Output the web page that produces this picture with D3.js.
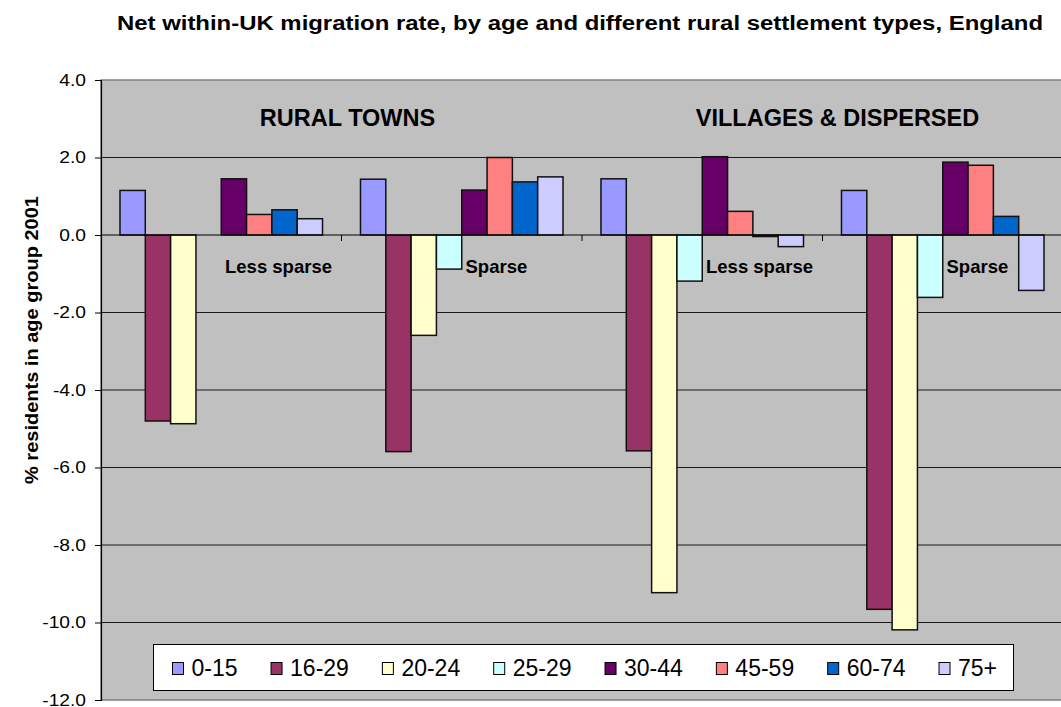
<!DOCTYPE html>
<html>
<head>
<meta charset="utf-8">
<script src="https://cdn.jsdelivr.net/npm/d3@7"></script>
<style>
	body { margin: 0; background: #fff; }
	text { font-family: "Liberation Sans", Arial, sans-serif; }
	.tick text { font-size: 16px; fill: #000; }
</style>
</head>
<body>
<div id="chart"></div>
<script>
var settlementTypes = ["Less sparse", "Sparse", "Less sparse", "Sparse"];
var settlementGroups = ["RURAL TOWNS", "VILLAGES & DISPERSED"];
var ageBands = ["0-15", "16-29", "20-24", "25-29", "30-44", "45-59", "60-74", "75+"];
var ageColors = ["#9999FF", "#993366", "#FFFFCC", "#CCFFFF", "#660066", "#FF8080", "#0066CC", "#CCCCFF"];

// one value per settlement type, in the order of settlementTypes
var age0to15 = [1.15, 1.44, 1.45, 1.15];
var age16to29 = [-4.80, -5.59, -5.57, -9.66];
var age20to24 = [-4.87, -2.59, -9.23, -10.19];
var age25to29 = [null, -0.88, -1.19, -1.61];
var age30to44 = [1.45, 1.16, 2.02, 1.88];
var age45to59 = [0.53, 2.00, 0.61, 1.80];
var age60to74 = [0.65, 1.37, -0.04, 0.48];
var age75plus = [0.42, 1.50, -0.30, -1.43];

var yTicks = [4, 2, 0, -2, -4, -6, -8, -10, -12];

var seriesValues = [age0to15, age16to29, age20to24, age25to29, age30to44, age45to59, age60to74, age75plus];

var width = 1061,
	height = 707,
	plotLeft = 101,
	plotRight = 1063,
	plotTop = 80,
	plotBottom = 700;

var svg = d3.select("#chart")
	.append("svg")
	.attr("width", width)
	.attr("height", height)
;

var xGroup = d3.scaleBand()
	.domain(d3.range(settlementTypes.length))
	.range([plotLeft, plotRight])
;

var xBar = d3.scaleBand()
	.domain(ageBands)
	.range([0, xGroup.bandwidth()])
	.paddingOuter(0.75)
;

var yScale = d3.scaleLinear()
	.domain([-12, 4])
	.range([plotBottom, plotTop])
;

/*
	Plot area and gridlines
*/
svg.append("rect")
	.attr("x", plotLeft)
	.attr("y", plotTop)
	.attr("width", plotRight - plotLeft)
	.attr("height", plotBottom - plotTop)
	.attr("fill", "#C0C0C0")
;

svg.selectAll("line.grid")
	.data(yTicks.filter(function(d) { return d !== 4 && d !== -12 && d !== 0; }))
	.enter()
	.append("line")
	.attr("class", "grid")
	.attr("x1", plotLeft)
	.attr("x2", plotRight)
	.attr("y1", function(d) { return yScale(d); })
	.attr("y2", function(d) { return yScale(d); })
	.attr("stroke", "#1a1a1a")
	.attr("stroke-width", 1.2)
;

svg.append("rect")
	.attr("x", plotLeft)
	.attr("y", plotTop)
	.attr("width", plotRight - plotLeft)
	.attr("height", plotBottom - plotTop)
	.attr("fill", "none")
	.attr("stroke", "#808080")
	.attr("stroke-width", 1.5)
;

/*
	Bars
*/
var groups = svg.selectAll("g.series")
	.data(seriesValues)
	.enter()
	.append("g")
	.attr("class", "series")
	.attr("fill", function(d, i) { return ageColors[i]; })
;

groups.selectAll("rect")
	.data(function(d, i) {
		return d.map(function(v, j) { return { age: ageBands[i], group: j, value: v }; })
			.filter(function(e) { return e.value !== null; });
	})
	.enter()
	.append("rect")
	.attr("x", function(d) { return xGroup(d.group) + xBar(d.age); })
	.attr("width", xBar.bandwidth())
	.attr("y", function(d) { return yScale(Math.max(0, d.value)); })
	.attr("height", function(d) { return Math.abs(yScale(d.value) - yScale(0)); })
	.attr("stroke", "#111")
	.attr("stroke-width", 1.5)
;

/*
	Axes
*/
svg.append("line")
	.attr("x1", plotLeft)
	.attr("x2", plotRight)
	.attr("y1", yScale(0))
	.attr("y2", yScale(0))
	.attr("stroke", "#000")
	.attr("stroke-width", 1.2)
;

svg.selectAll("line.catTick")
	.data(d3.range(1, settlementTypes.length))
	.enter()
	.append("line")
	.attr("class", "catTick")
	.attr("x1", function(d) { return xGroup(d); })
	.attr("x2", function(d) { return xGroup(d); })
	.attr("y1", yScale(0))
	.attr("y2", yScale(0) + 6)
	.attr("stroke", "#000")
;

var yAxis = svg.append("g")
	.attr("transform", "translate(" + plotLeft + ",0)")
	.call(d3.axisLeft(yScale)
		.tickValues(yTicks)
		.tickSize(6)
		.tickPadding(9)
		.tickFormat(function(d) { return d.toFixed(1); }))
;
yAxis.select(".domain").attr("stroke", "#000").attr("stroke-width", 1.2);
yAxis.selectAll(".tick line").attr("stroke", "#000");
// the reference glyphs are drawn wider than the font's own widths
yAxis.selectAll(".tick text")
	.attr("font-family", null)
	.each(function() {
		d3.select(this)
			.attr("textLength", this.getComputedTextLength() * 1.2)
			.attr("lengthAdjust", "spacingAndGlyphs");
	})
;

/*
	Titles and labels
*/
svg.append("text")
	.attr("x", 580)
	.attr("y", 30)
	.attr("text-anchor", "middle")
	.attr("font-size", "19.5px")
	.attr("font-weight", "bold")
	.attr("textLength", 926)
	.attr("lengthAdjust", "spacingAndGlyphs")
	.text("Net within-UK migration rate, by age and different rural settlement types, England")
;

svg.append("text")
	.attr("transform", "translate(37.5," + 340 + ") rotate(-90)")
	.attr("text-anchor", "middle")
	.attr("font-size", "18px")
	.attr("font-weight", "bold")
	.attr("textLength", 288)
	.attr("lengthAdjust", "spacingAndGlyphs")
	.text("% residents in age group 2001")
;

svg.selectAll("text.settlement")
	.data(settlementGroups)
	.enter()
	.append("text")
	.attr("class", "settlement")
	.attr("x", function(d, i) { return xGroup(i * 2 + 1) + (i === 0 ? 6 : 15); })
	.attr("y", 126)
	.attr("text-anchor", "middle")
	.attr("font-size", "23.5px")
	.attr("font-weight", "bold")
	.text(function(d) { return d; })
;

svg.selectAll("text.type")
	.data(settlementTypes)
	.enter()
	.append("text")
	.attr("class", "type")
	.attr("x", function(d, i) { return xGroup(i) + 124; })
	.attr("y", 273)
	.attr("font-size", "18.5px")
	.attr("font-weight", "bold")
	.text(function(d) { return d; })
;

/*
	Legend
*/
svg.append("rect")
	.attr("x", 153.5)
	.attr("y", 644.5)
	.attr("width", 860)
	.attr("height", 46)
	.attr("fill", "#fff")
	.attr("stroke", "#000")
;

var legendX = 172;
ageBands.forEach(function(band, i) {
	svg.append("rect")
		.attr("x", legendX + 0.5)
		.attr("y", 662.5)
		.attr("width", 11)
		.attr("height", 12)
		.attr("fill", ageColors[i])
		.attr("stroke", "#000")
	;
	var label = svg.append("text")
		.attr("x", legendX + 19.5)
		.attr("y", 676)
		.attr("font-size", "23px")
		.text(band)
	;
	legendX += 19.5 + label.node().getComputedTextLength() + 33;
});
</script>
</body>
</html>
